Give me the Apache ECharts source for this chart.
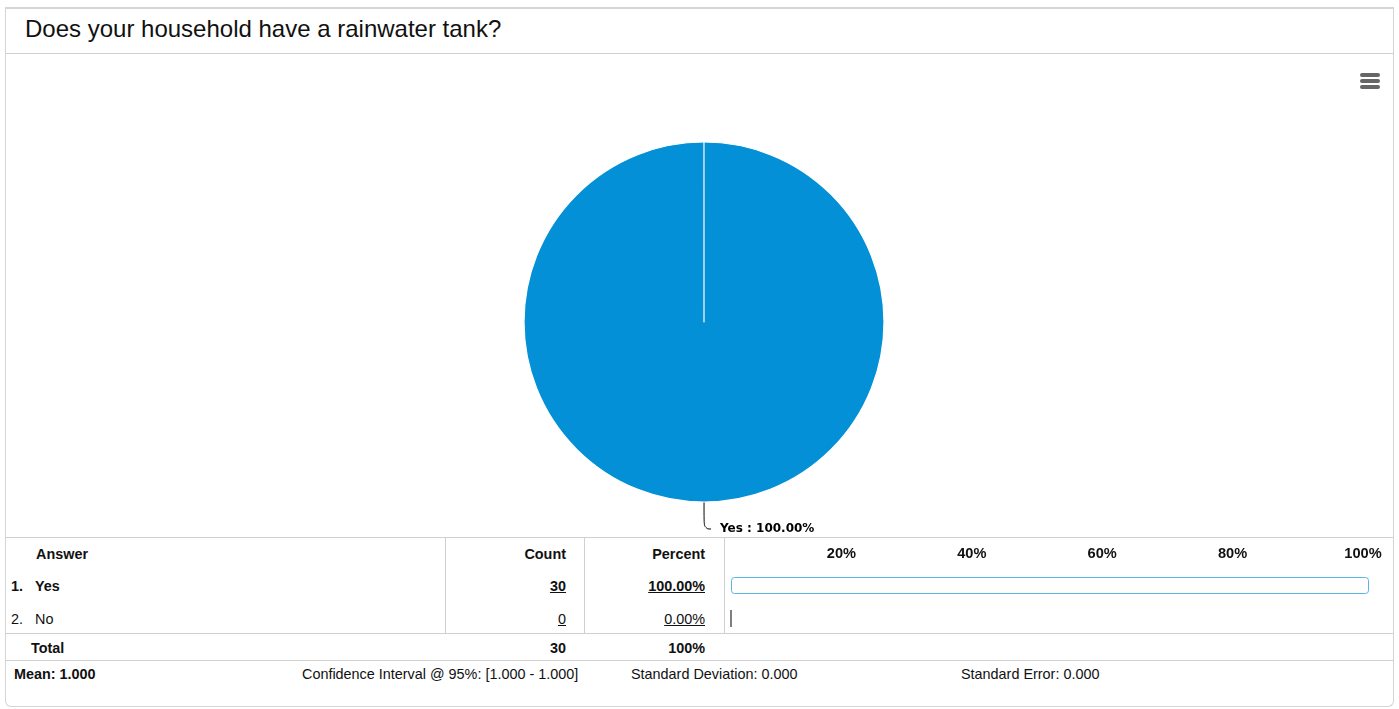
<!DOCTYPE html>
<html>
<head>
<meta charset="utf-8">
<script src="https://cdn.jsdelivr.net/npm/echarts@6/dist/echarts.min.js"></script>
<style>
  html, body { margin: 0; padding: 0; background: #fff; width: 1399px; height: 709px; overflow: hidden;
    font-family: "Liberation Sans", Arial, sans-serif; color: #111; }
  #panel { position: absolute; left: 5px; top: 7px; width: 1387px; height: 697px;
    border: 1px solid #d4d4d4; border-top: 2px solid #d6d6d6; border-radius: 0 0 6px 6px; }
  #title { position: absolute; left: 0; top: 0; width: 100%; height: 44px; border-bottom: 1px solid #d0d0d0;
    font-size: 24px; line-height: 40px; text-indent: 19px; color: #111; }
  #menu { position: absolute; left: 1354px; top: 64px; }
  #menu div { width: 20px; height: 4px; border-radius: 2px; background: #666; margin-bottom: 2px; }
  .hl { position: absolute; height: 0; border-top: 1px solid #d0d0d0; }
  .vl { position: absolute; width: 0; border-left: 1px solid #d0d0d0; }
  .t { position: absolute; font-size: 14.4px; line-height: 16px; white-space: nowrap; }
  .b { font-weight: bold; }
  .r { text-align: right; }
  .u { text-decoration: underline; }
  #chart { position: absolute; left: 0; top: 0; width: 1399px; height: 709px; }
</style>
</head>
<body>
<div id="panel">
  <div id="title"></div>
  <div id="menu"><div></div><div></div><div></div></div>
</div>
<div id="table"></div>
<div id="chart"></div>
<script>
// Survey question and responses
const question = 'Does your household have a rainwater tank?';
const answers = ['Yes', 'No'];
const counts = [30, 0];
const percents = [100, 0];
const totalCount = 30;
const totalPercent = '100%';
const axisTicks = [20, 40, 60, 80, 100];
const stats = ['Mean: 1.000', 'Confidence Interval @ 95%: [1.000 - 1.000]', 'Standard Deviation: 0.000', 'Standard Error: 0.000'];

document.getElementById('title').textContent = question;

// Response table (text and rules)
const tbl = document.getElementById('table');
function add(html, cls, style) {
  const d = document.createElement('div');
  d.className = cls;
  d.setAttribute('style', style);
  d.innerHTML = html;
  tbl.appendChild(d);
}
add('', 'hl', 'left:5px;width:1388px;top:537px');
add('', 'hl', 'left:5px;width:1388px;top:633px');
add('', 'hl', 'left:5px;width:1388px;top:660px');
add('', 'vl', 'left:445px;top:537px;height:96px');
add('', 'vl', 'left:584px;top:537px;height:96px');
add('', 'vl', 'left:724px;top:537px;height:96px');

add('Answer', 't b', 'left:36px;top:546px');
add('Count', 't b r', 'left:466px;width:100px;top:546px');
add('Percent', 't b r', 'left:605px;width:100px;top:546px');
const rowTops = [578, 611];
answers.forEach((a, i) => {
  const bold = i === 0 ? ' b' : '';
  add((i + 1) + '.', 't' + bold, 'left:11px;top:' + rowTops[i] + 'px');
  add(a, 't' + bold, 'left:35px;top:' + rowTops[i] + 'px');
  add(String(counts[i]), 't r u' + bold, 'left:466px;width:100px;top:' + rowTops[i] + 'px');
  add(percents[i].toFixed(2) + '%', 't r u' + bold, 'left:605px;width:100px;top:' + rowTops[i] + 'px');
});
add('Total', 't b', 'left:31px;top:640px');
add(String(totalCount), 't b r', 'left:466px;width:100px;top:640px');
add(totalPercent, 't b r', 'left:605px;width:100px;top:640px');
add(stats[0], 't b', 'left:14px;top:666px');
add(stats[1], 't', 'left:302px;top:666px');
add(stats[2], 't', 'left:631px;top:666px');
add(stats[3], 't', 'left:961px;top:666px');

// Pie and percentage bars
const chart = echarts.init(document.getElementById('chart'), null, { renderer: 'canvas' });
chart.setOption({
  animation: false,
  backgroundColor: 'transparent',
  grid: [
    { left: 711, width: 652, top: 553, height: 1, containLabel: false },
    { left: 731, width: 638, top: 569, height: 66, containLabel: false }
  ],
  xAxis: [
    {
      gridIndex: 0, type: 'value', min: 0, max: 100, interval: 20, position: 'bottom',
      axisLine: { show: false }, axisTick: { show: false }, splitLine: { show: false },
      axisLabel: {
        margin: 0, verticalAlign: 'middle', fontWeight: 'bold', fontSize: 14.6, color: '#111',
        fontFamily: 'Liberation Sans',
        formatter: v => axisTicks.indexOf(v) >= 0 ? v + '%' : ''
      }
    },
    {
      gridIndex: 1, type: 'value', min: 0, max: 100, show: false
    }
  ],
  yAxis: [
    { gridIndex: 0, type: 'category', data: [''], show: false },
    { gridIndex: 1, type: 'category', data: answers, inverse: true, show: false }
  ],
  series: [
    {
      type: 'pie',
      center: [704, 322],
      radius: 180,
      startAngle: 90.01,
      clockwise: true,
      avoidLabelOverlap: false,
      itemStyle: { color: '#0390d6', borderColor: '#fff', borderWidth: 1.2 },
      label: {
        formatter: p => p.name + ' : ' + p.value.toFixed(2) + '%',
        fontFamily: 'DejaVu Sans', fontWeight: 'bold', fontSize: 12, color: '#000',
        distanceToLabelLine: 9
      },
      labelLine: { length: 27, length2: 7, smooth: 0.5, lineStyle: { color: '#000', width: 1 } },
      emphasis: { disabled: true },
      data: answers.map((a, i) => ({
        name: a, value: percents[i],
        label: { show: percents[i] > 0 }, labelLine: { show: percents[i] > 0 }
      }))
    },
    {
      type: 'bar',
      xAxisIndex: 1, yAxisIndex: 1,
      barWidth: 17,
      silent: true,
      data: percents.map(v => ({
        value: v,
        itemStyle: v > 0
          ? { color: '#fff', borderColor: '#5cb3e6', borderWidth: 1, borderRadius: 3 }
          : { color: '#fff', borderColor: '#555', borderWidth: 1.5 }
      }))
    }
  ]
});
</script>
</body>
</html>
